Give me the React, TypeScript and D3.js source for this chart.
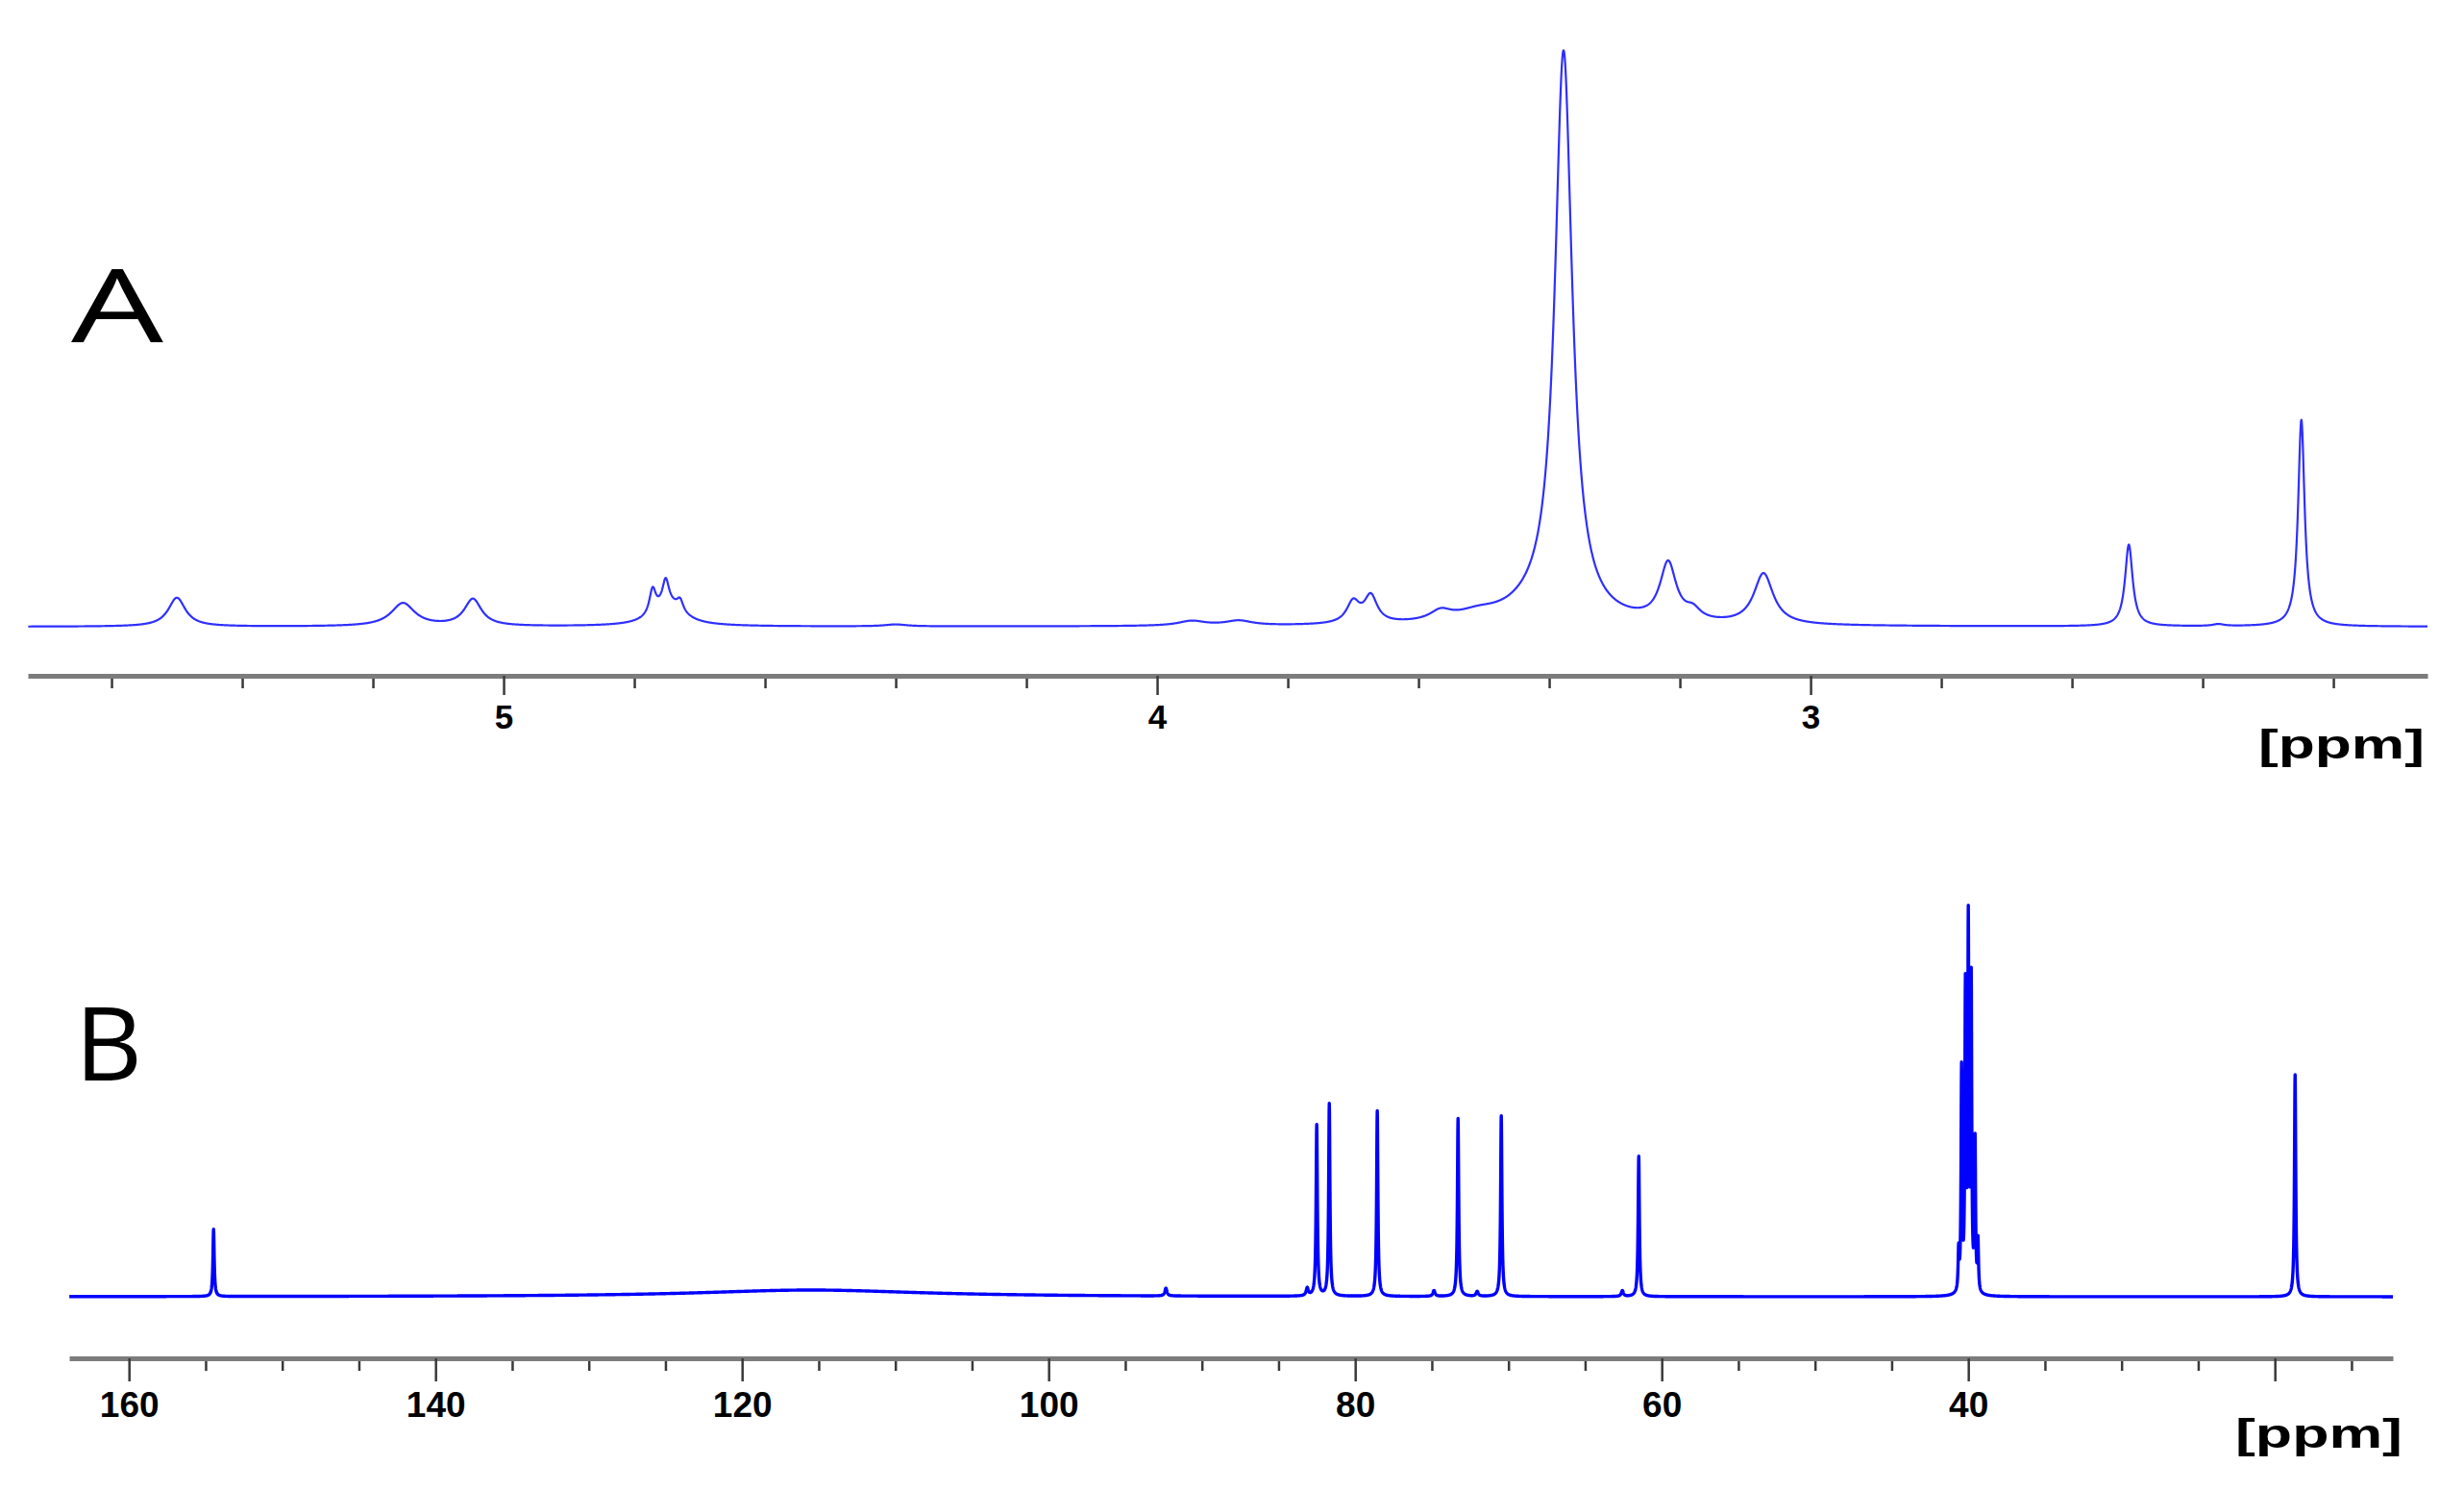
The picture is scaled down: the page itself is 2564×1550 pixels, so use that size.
import React, { useRef, useEffect } from "react";
import * as d3 from "d3";

// ---- Spectrum A (1H NMR): peak centre (ppm), intensity (a.u.), half width (ppm)
const protonPpm = [5.5, 5.154, 5.047, 4.772, 4.752, 4.748, 4.73, 4.4, 3.947, 3.875, 3.7, 3.673, 3.566, 3.51, 3.42, 3.378, 3.218, 3.18, 3.072, 2.513, 2.376, 2.249];
const protonHeight = [30, 24, 28, 26, 26, 22, 12, 2, 5, 5, 22, 28, 10, 8, 12, 590, 60, 10, 53, 85, 2, 215];
const protonWidth = [0.016, 0.022, 0.016, 0.006, 0.006, 0.028, 0.006, 0.02, 0.025, 0.025, 0.012, 0.012, 0.02, 0.04, 0.06, 0.016, 0.015, 0.014, 0.018, 0.007, 0.01, 0.006];
const protonMajorTicks = [5, 4, 3];
const protonMinorTicks = [5.6, 5.4, 5.2, 4.8, 4.6, 4.4, 4.2, 3.8, 3.6, 3.4, 3.2, 2.8, 2.6, 2.4, 2.2];

// ---- Spectrum B (13C NMR)
const carbonPpm = [154.48, 115.5, 92.35, 83.13, 82.51, 81.69, 78.56, 74.86, 73.29, 72.04, 70.47, 62.57, 61.5, 40.63, 40.44, 40.19, 40.0, 39.81, 39.56, 39.37, 18.68];
const carbonHeight = [70, 7, 8, 8, 178, 200, 193, 6, 185, 5, 188, 6, 146, 41, 230, 310, 377, 318, 155, 52, 231];
const carbonWidth = [0.05, 9, 0.08, 0.08, 0.05, 0.05, 0.05, 0.08, 0.05, 0.08, 0.05, 0.08, 0.05, 0.04, 0.04, 0.04, 0.04, 0.04, 0.04, 0.04, 0.05];
const carbonMajorTicks = [160, 140, 120, 100, 80, 60, 40, 20];
const carbonLabelTicks = [160, 140, 120, 100, 80, 60, 40];
const carbonMinorTicks = [155, 150, 145, 135, 130, 125, 115, 110, 105, 95, 90, 85, 75, 70, 65, 55, 50, 45, 35, 30, 25, 15];

// sum of lorentzian lines on a ppm grid (plus the exact line centres)
function buildSpectrum(ppm: number[], height: number[], width: number[], lo: number, hi: number, step: number) {
  const grid = d3.range(lo, hi, step).concat(ppm).sort((a, b) => a - b);
  return grid.map((p) => {
    let v = 0;
    for (let i = 0; i < ppm.length; i++) {
      const d = (p - ppm[i]) / width[i];
      v += height[i] / (1 + d * d);
    }
    return [p, v] as [number, number];
  });
}

function App() {
  const svgRef = useRef<SVGSVGElement>(null);

  useEffect(() => {
    document.body.style.margin = "0";
    const width = 2564;
    const height = 1550;
    const svg = d3.select(svgRef.current).attr("width", width).attr("height", height);
    svg.selectAll("*").remove();
    svg.append("rect").attr("width", width).attr("height", height).attr("fill", "#fff");

    const drawPanel = (opts: any) => {
      const x = d3.scaleLinear().domain(opts.domain).range(opts.xRange);
      const y = d3.scaleLinear().domain([0, 100]).range([opts.baseY, opts.baseY - 100]);
      const data = buildSpectrum(opts.ppm, opts.heights, opts.widths, opts.domain[1], opts.domain[0], opts.step);

      svg.append("path")
        .datum(data)
        .attr("fill", "none")
        .attr("stroke", opts.color)
        .attr("stroke-width", opts.lineWidth)
        .attr("stroke-linejoin", "round")
        .attr("d", d3.line<[number, number]>().x((d) => x(d[0])).y((d) => y(d[1])));

      // minor ticks
      svg.append("g")
        .attr("transform", `translate(0, ${opts.axisY})`)
        .call(d3.axisBottom(x).tickValues(opts.minor).tickSize(opts.minorLen).tickSizeOuter(0).tickFormat(() => ""))
        .call((g) => g.select(".domain").remove())
        .call((g) => g.selectAll(".tick line").attr("stroke", "#3a3a3a").attr("stroke-width", 2.5));

      // major ticks + labels
      const major = svg.append("g")
        .attr("transform", `translate(0, ${opts.axisY})`)
        .call(
          d3.axisBottom(x)
            .tickValues(opts.major)
            .tickSize(opts.majorLen)
            .tickSizeOuter(0)
            .tickPadding(opts.pad)
            .tickFormat((d) => (opts.labels.includes(+d) ? String(d) : ""))
        );
      major.select(".domain").attr("stroke", "#7c7c7c").attr("stroke-width", 5);
      major.selectAll(".tick line").attr("stroke", "#3a3a3a").attr("stroke-width", 2.5);
      major.selectAll(".tick text")
        .attr("fill", "#000")
        .style("font-family", "'Liberation Sans', Arial, sans-serif")
        .style("font-weight", "bold")
        .style("font-size", `${opts.fontSize}px`);

      svg.append("text")
        .attr("x", opts.unitX)
        .attr("y", opts.unitY)
        .attr("textLength", opts.unitW)
        .attr("lengthAdjust", "spacingAndGlyphs")
        .style("font-family", "'Liberation Sans', Arial, sans-serif")
        .style("font-weight", "bold")
        .style("font-size", "42px")
        .attr("fill", "#000")
        .text("[ppm]");

      svg.append("text")
        .attr("x", opts.letterX)
        .attr("y", opts.letterY)
        .attr("textLength", opts.letterW)
        .attr("lengthAdjust", "spacingAndGlyphs")
        .style("font-family", "'Open Sans', 'DejaVu Sans', sans-serif")
        .style("font-size", "106px")
        .attr("fill", "#000")
        .text(opts.letter);
    };

    // A : 1H
    drawPanel({
      domain: [5.728, 2.056],
      xRange: [29, 2526],
      baseY: 652,
      axisY: 703,
      step: 0.0005,
      ppm: protonPpm,
      heights: protonHeight,
      widths: protonWidth,
      color: "#2f2fff",
      lineWidth: 2.2,
      major: protonMajorTicks,
      labels: protonMajorTicks,
      minor: protonMinorTicks,
      majorLen: 20,
      minorLen: 13,
      pad: 10,
      fontSize: 35,
      unitX: 2350,
      unitY: 789,
      unitW: 173,
      letter: "A",
      letterX: 74,
      letterY: 356,
      letterW: 96,
    });

    // B : 13C
    drawPanel({
      domain: [163.9, 12.3],
      xRange: [72, 2490],
      baseY: 1349,
      axisY: 1413,
      step: 0.01,
      ppm: carbonPpm,
      heights: carbonHeight,
      widths: carbonWidth,
      color: "#0000ff",
      lineWidth: 3.4,
      major: carbonMajorTicks,
      labels: carbonLabelTicks,
      minor: carbonMinorTicks,
      majorLen: 24,
      minorLen: 13,
      pad: 11,
      fontSize: 37,
      unitX: 2326,
      unitY: 1506,
      unitW: 174,
      letter: "B",
      letterX: 78,
      letterY: 1124,
      letterW: 70,
    });
  }, []);

  return <svg ref={svgRef} style={{ display: "block" }}></svg>;
}

export default App;
